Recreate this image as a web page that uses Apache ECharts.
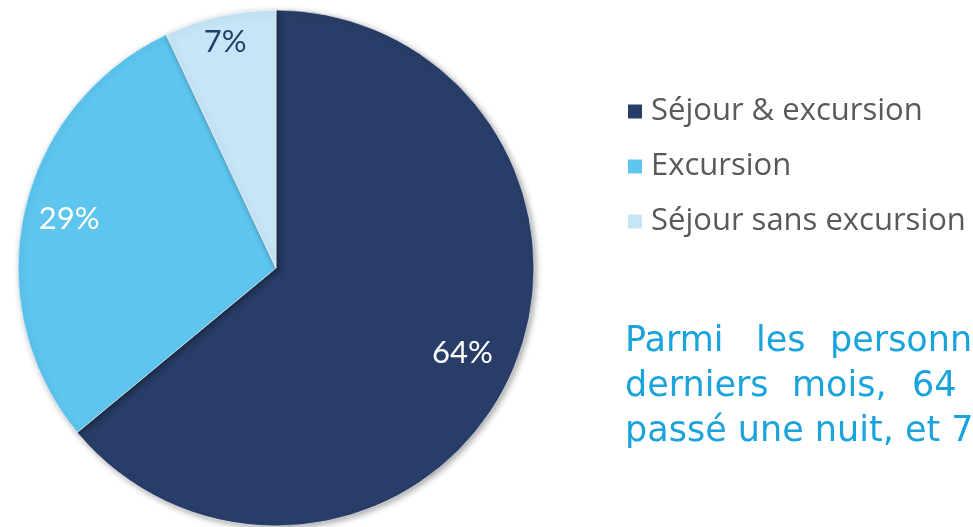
<!DOCTYPE html>
<html>
<head>
<meta charset="utf-8">
<script src="https://cdn.jsdelivr.net/npm/echarts@6/dist/echarts.min.js"></script>
<style>
html,body{margin:0;padding:0;background:#fff;}
#chart{width:973px;height:527px;}
</style>
</head>
<body>
<div id="chart"></div>
<script>
const categories = ['Séjour & excursion', 'Excursion', 'Séjour sans excursion'];
const values = [64, 29, 7];
const colors = ['#283E68', '#5EC5EE', '#C6E6F7'];
const labelColors = ['#ffffff', '#ffffff', '#283E68'];
const labelOffsets = [[67, 29], [-78, -20], [-22, -97]];

const line1Words = ['Parmi', 'les', 'personnes', 'interrogées'];
const line1X = [625, 756, 830, 1010];
const line2Words = ['derniers', 'mois,', '64', '%'];
const line2X = [625, 792, 912, 980];
const line3Text = 'passé une nuit, et 7 % n’ont pas fait';

const chart = echarts.init(document.getElementById('chart'));

const textColor = '#1BA3DC';
const textFont = '"DejaVu Sans"';
const textSize = 35;
const lineYs = [342, 387, 432];
const graphics = [];
function addWord(w, x, y) {
  graphics.push({type:'text', x: x, y: y, style:{text:w, fill:textColor, font:'400 '+textSize+'px '+textFont, verticalAlign:'middle', align:'left'}});
}
line1Words.forEach((w, i) => addWord(w, line1X[i], lineYs[0]));
line2Words.forEach((w, i) => addWord(w, line2X[i], lineYs[1]));
addWord(line3Text, 625, lineYs[2]);

chart.setOption({
  animation: false,
  backgroundColor: '#ffffff',
  legend: {
    orient: 'vertical',
    left: 626,
    top: 96,
    padding: 0,
    icon: 'rect',
    itemWidth: 16,
    itemHeight: 16,
    itemGap: 24,
    textStyle: {color: '#595959', fontSize: 31, fontFamily: 'Open Sans', lineHeight: 31, padding: [0, 0, 0, 3]},
    data: categories
  },
  graphic: graphics,
  series: [{
    type: 'pie',
    center: [276, 268],
    radius: 258,
    startAngle: 90,
    clockwise: true,
    itemStyle: {borderColor: '#ffffff', borderWidth: 0.6, shadowBlur: 6, shadowColor: 'rgba(0,0,0,0.35)', shadowOffsetX: 2, shadowOffsetY: 2},
    emphasis: {disabled: true},
    labelLine: {show: false},
    data: categories.map((c, i) => ({
      name: c,
      value: values[i],
      itemStyle: {color: colors[i]},
      label: {
        show: true,
        position: 'inside',
        formatter: '{c}%',
        color: labelColors[i],
        fontSize: 31,
        fontFamily: 'Lato',
        fontWeight: 400,
        offset: labelOffsets[i]
      }
    }))
  }]
});
</script>
</body>
</html>
